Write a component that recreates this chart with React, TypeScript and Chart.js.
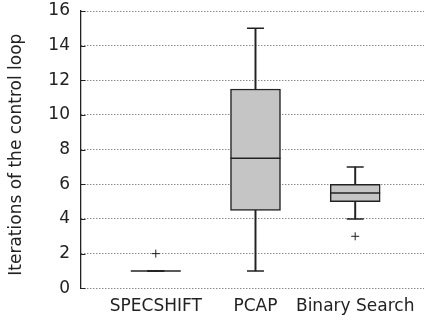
import React, { useEffect, useRef } from "react";
import { Chart, registerables } from "chart.js";

Chart.register(...registerables);

const categories = ["SPECSHIFT", "PCAP", "Binary Search"];
const whiskerLow = [1, 1, 4];
const q1 = [1, 4.5, 5];
const medians = [1, 7.5, 5.5];
const q3 = [1, 11.5, 6];
const whiskerHigh = [1, 15, 7];
const outliers: number[][] = [[2], [], [3]];
const yMin = 0;
const yMax = 16;
const yStep = 2;
const yTitle = "Iterations of the control loop";

const FONT = "'DejaVu Sans', sans-serif";
const INK = "#222222";

const innerTicks = {
  id: "innerTicks",
  afterDatasetsDraw(chart: any) {
    const y = chart.scales.y;
    const { ctx, chartArea } = chart;
    ctx.save();
    ctx.strokeStyle = INK;
    ctx.lineWidth = 1;
    y.ticks.forEach((t: any) => {
      const py = Math.round(y.getPixelForValue(t.value)) + 0.5;
      ctx.beginPath();
      ctx.moveTo(chartArea.left, py);
      ctx.lineTo(chartArea.left + 4.5, py);
      ctx.stroke();
    });
    ctx.restore();
  },
  afterDraw(chart: any) {
    const y = chart.scales.y;
    const { ctx } = chart;
    ctx.save();
    ctx.fillStyle = INK;
    ctx.font = `17px ${FONT}`;
    ctx.textAlign = "center";
    ctx.textBaseline = "middle";
    ctx.translate(y.left + 17, (y.top + y.bottom) / 2 + 5);
    ctx.rotate(-Math.PI / 2);
    ctx.fillText(yTitle, 0, 0);
    ctx.restore();
  },
};

export default function App() {
  const ref = useRef<HTMLCanvasElement>(null);
  useEffect(() => {
    if (!ref.current) return;
    const xs = categories.map((_, i) => i + 1);
    const chart = new Chart(ref.current, {
      type: "bar",
      data: {
        datasets: [
          {
            type: "scatter",
            label: "outliers",
            order: 0,
            data: outliers.flatMap((arr, i) => arr.map((v) => ({ x: i + 1, y: v }))),
            pointStyle: "cross",
            pointRadius: 4,
            borderColor: INK,
            borderWidth: 1,
          } as any,
          {
            type: "scatter",
            label: "medians",
            order: 1,
            data: xs.map((x, i) => ({ x, y: medians[i] })),
            pointStyle: "line",
            pointRadius: 25,
            borderColor: INK,
            borderWidth: 1.5,
          } as any,
          {
            type: "scatter",
            label: "caps",
            order: 2,
            data: [
              ...xs.map((x, i) => ({ x, y: whiskerLow[i] })),
              ...xs.map((x, i) => ({ x, y: whiskerHigh[i] })),
            ],
            pointStyle: "line",
            pointRadius: 8.5,
            borderColor: INK,
            borderWidth: 1.5,
          } as any,
          {
            type: "bar",
            label: "boxes",
            order: 3,
            data: xs.map((x, i) => ({ x, y: [q1[i], q3[i]] })) as any,
            backgroundColor: "#c4c5c4",
            borderColor: INK,
            borderWidth: 1.5,
            borderSkipped: false,
            barThickness: 50,
            grouped: false,
          } as any,
          {
            type: "bar",
            label: "whiskers-high",
            order: 4,
            data: xs.map((x, i) => ({ x, y: [q3[i], whiskerHigh[i]] })) as any,
            backgroundColor: INK,
            barThickness: 1.3,
            grouped: false,
            borderWidth: 0,
          } as any,
          {
            type: "bar",
            label: "whiskers-low",
            order: 5,
            data: xs.map((x, i) => ({ x, y: [whiskerLow[i], q1[i]] })) as any,
            backgroundColor: INK,
            barThickness: 1.3,
            grouped: false,
            borderWidth: 0,
          } as any,
        ],
      },
      options: {
        animation: false,
        responsive: false,
        devicePixelRatio: 1,
        events: [],
        layout: { autoPadding: false, padding: { top: 11, right: 0, left: 0, bottom: 0 } },
        plugins: { legend: { display: false }, tooltip: { enabled: false } },
        scales: {
          x: {
            type: "linear",
            offset: false,
            min: 0.25,
            max: 3.69,
            afterBuildTicks: (scale: any) => {
              scale.ticks = categories.map((_, i) => ({ value: i + 1 }));
            },
            afterFit: (scale: any) => {
              scale.height = 33.7;
              scale.paddingLeft = 0;
              scale.paddingRight = 0;
            },
            ticks: {
              autoSkip: false,
              maxRotation: 0,
              padding: 8,
              color: INK,
              font: { family: FONT, size: 17 },
              callback: (v: any) => categories[Math.round(v) - 1] ?? "",
            },
            grid: { display: false, drawTicks: false },
            border: { display: false },
          },
          y: {
            min: yMin,
            max: yMax,
            afterFit: (scale: any) => {
              scale.width = 81;
              scale.paddingTop = 0;
              scale.paddingBottom = 0;
            },
            ticks: {
              stepSize: yStep,
              padding: 11,
              color: INK,
              font: { family: FONT, size: 17 },
            },
            grid: { color: "#555555", lineWidth: 1, drawTicks: false },
            border: { display: true, color: INK, width: 1.3, dash: [1, 2] },
            title: { display: false },
          },
        },
      },
      plugins: [innerTicks],
    } as any);
    return () => chart.destroy();
  }, []);
  return (
    <div style={{ position: "fixed", left: 0, top: 0, width: 424, height: 322, background: "#fff" }}>
      <canvas ref={ref} width={424} height={322} style={{ display: "block" }} />
    </div>
  );
}
